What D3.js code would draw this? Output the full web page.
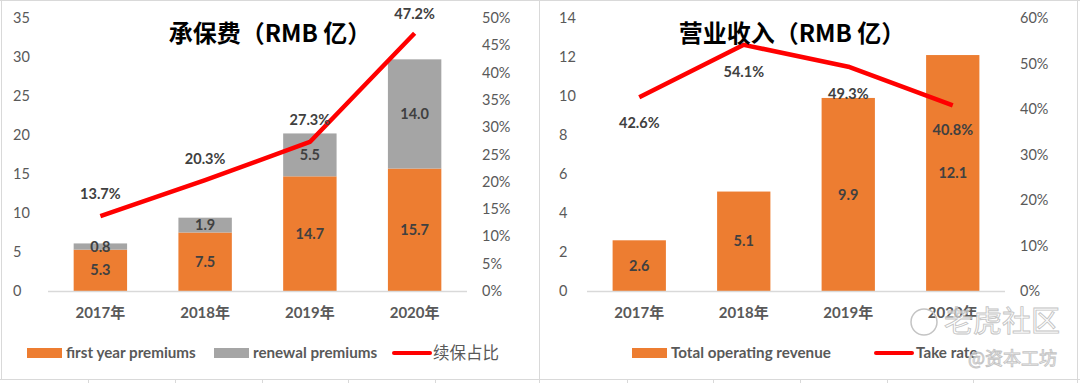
<!DOCTYPE html>
<html>
<head>
<meta charset="utf-8">
<script src="https://cdn.jsdelivr.net/npm/d3@7"></script>
<style>
  body { margin: 0; background: #fff; }
  svg { display: block; }
  text { font-family: Lato, "Noto Sans CJK SC", sans-serif; }
</style>
</head>
<body>
<div id="chart"></div>
<script>
// data -------------------------------------------------------------------
const years = ["2017年", "2018年", "2019年", "2020年"];
const firstYear = [5.3, 7.5, 14.7, 15.7];
const renewal = [0.8, 1.9, 5.5, 14.0];
const renewalShare = [0.137, 0.203, 0.273, 0.472];
const revenue = [2.6, 5.1, 9.9, 12.1];
const takeRate = [0.426, 0.541, 0.493, 0.408];
const leftTicks = [0, 5, 10, 15, 20, 25, 30, 35];
const leftPctTicks = [0, 0.05, 0.1, 0.15, 0.2, 0.25, 0.3, 0.35, 0.4, 0.45, 0.5];
const rightTicks = [0, 2, 4, 6, 8, 10, 12, 14];
const rightPctTicks = [0, 0.1, 0.2, 0.3, 0.4, 0.5, 0.6];

const W = 1080, H = 383;
const ORANGE = "#ED7D31", GRAY = "#A5A5A5", RED = "#FF0000";
const TICK = "#595959", LABEL = "#404040";

const svg = d3.select("#chart").append("svg")
    .attr("width", W).attr("height", H);

// spreadsheet cell lines + frames
const grid = svg.append("g").attr("stroke", "#d9d9d9").attr("fill", "none");
grid.append("line").attr("x1", 0).attr("x2", W).attr("y1", 379.5).attr("y2", 379.5);
[88, 175, 262, 348, 435, 627, 713, 800, 887, 973].forEach(x => {
    grid.append("line").attr("x1", x + 0.5).attr("x2", x + 0.5).attr("y1", 379).attr("y2", H);
});
grid.append("line").attr("x1", 1.5).attr("x2", 1.5).attr("y1", 0).attr("y2", 379);
grid.append("line").attr("x1", 539.5).attr("x2", 539.5).attr("y1", 0).attr("y2", H);
grid.append("line").attr("x1", 1077.5).attr("x2", 1077.5).attr("y1", 0).attr("y2", H);
grid.append("line").attr("x1", 0).attr("x2", W).attr("y1", 0.5).attr("y2", 0.5);

function drawPanel(cfg) {
    const g = svg.append("g");
    const x = d3.scaleBand().domain(years).range(cfg.xRange)
        .paddingInner(0.49).paddingOuter(0.245);
    const y = d3.scaleLinear().domain(cfg.yDomain).range([291, 18]);
    const y2 = d3.scaleLinear().domain(cfg.pctDomain).range([291, 18]);

    // left axis labels
    g.selectAll(".yl").data(cfg.ticks).join("text")
        .attr("x", cfg.leftLabelX).attr("y", d => y(d)).attr("dy", "0.35em")
        .attr("fill", TICK).attr("font-size", 14.5).text(d => d);
    // right axis labels
    g.selectAll(".yr").data(cfg.pctTicks).join("text")
        .attr("x", cfg.rightLabelX).attr("y", d => y2(d)).attr("dy", "0.35em")
        .attr("fill", TICK).attr("font-size", 14.5).text(d3.format(".0%"));

    // bars
    cfg.series.forEach((s, si) => {
        g.selectAll(null).data(s.values).join("rect")
            .attr("x", (d, i) => x(years[i]))
            .attr("width", x.bandwidth())
            .attr("y", (d, i) => y(d + s.base(i)))
            .attr("height", (d, i) => y(s.base(i)) - y(d + s.base(i)))
            .attr("fill", s.color);
        g.selectAll(null).data(s.values).join("text")
            .attr("x", (d, i) => x(years[i]) + x.bandwidth() / 2)
            .attr("y", (d, i) => y(s.base(i) + d / 2))
            .attr("dy", "0.35em").attr("text-anchor", "middle")
            .attr("font-weight", "bold").attr("font-size", 14.5).attr("fill", LABEL)
            .text(d => d.toFixed(1));
    });

    // baseline
    g.append("line").attr("x1", cfg.xRange[0]).attr("x2", cfg.xRange[1])
        .attr("y1", y(0) + 0.5).attr("y2", y(0) + 0.5)
        .attr("stroke", "#d9d9d9").attr("stroke-width", 1.5);

    // category labels
    g.selectAll(".cat").data(years).join("text")
        .attr("x", d => x(d) + x.bandwidth() / 2).attr("y", 313).attr("dy", "0.35em")
        .attr("text-anchor", "middle").attr("font-weight", "bold")
        .attr("font-size", 15).attr("fill", TICK).text(d => d);

    // line
    const line = d3.line()
        .x((d, i) => x(years[i]) + x.bandwidth() / 2)
        .y(d => y2(d));
    g.append("path").datum(cfg.pct).attr("d", line)
        .attr("fill", "none").attr("stroke", RED).attr("stroke-width", 4.5)
        .attr("stroke-linejoin", "round");
    g.selectAll(".pl").data(cfg.pct).join("text")
        .attr("x", (d, i) => x(years[i]) + x.bandwidth() / 2)
        .attr("y", (d, i) => y2(d) + cfg.pctOffset[i]).attr("dy", "0.35em")
        .attr("text-anchor", "middle").attr("font-weight", "bold")
        .attr("font-size", 14.5).attr("fill", LABEL)
        .text(d => (d * 100).toFixed(1) + "%");

    // title
    g.append("text").attr("x", cfg.titleX).attr("y", 34).attr("dy", "0.35em")
        .attr("text-anchor", "middle").attr("font-weight", "bold").attr("font-size", 24)
        .attr("fill", "#000")
        .style("font-family", "'Noto Sans CJK SC', sans-serif")
        .text(cfg.title);

    // legend
    const lg = g.append("g");
    cfg.legend.forEach(it => {
        if (it.type === "rect") {
            lg.append("rect").attr("x", it.x).attr("y", 348).attr("width", 35).attr("height", 10)
                .attr("fill", it.color);
        } else {
            lg.append("line").attr("x1", it.x).attr("x2", it.x + 36).attr("y1", 353).attr("y2", 353)
                .attr("stroke", it.color).attr("stroke-width", 4).attr("stroke-linecap", "round");
        }
        lg.append("text").attr("x", it.tx).attr("y", 353).attr("dy", "0.35em")
            .attr("font-weight", it.bold ? "bold" : "normal").attr("font-size", it.size || 15.2)
            .attr("fill", TICK).text(it.label);
    });
}

drawPanel({
    xRange: [48, 467], yDomain: [0, 35], pctDomain: [0, 0.5],
    ticks: leftTicks, pctTicks: leftPctTicks,
    leftLabelX: 13, rightLabelX: 482,
    series: [
        { values: firstYear, color: ORANGE, base: () => 0 },
        { values: renewal, color: GRAY, base: i => firstYear[i] }
    ],
    pct: renewalShare, pctOffset: [-22, -21, -22, -19],
    title: "承保费（RMB 亿）", titleX: 270,
    legend: [
        { type: "rect", x: 27, tx: 66, color: ORANGE, label: "first year premiums", bold: true },
        { type: "rect", x: 214, tx: 253, color: GRAY, label: "renewal premiums", bold: true },
        { type: "line", x: 394, tx: 433, color: RED, label: "续保占比", size: 16.5 }
    ]
});

drawPanel({
    xRange: [587, 1005], yDomain: [0, 14], pctDomain: [0, 0.6],
    ticks: rightTicks, pctTicks: rightPctTicks,
    leftLabelX: 559, rightLabelX: 1020,
    series: [
        { values: revenue, color: ORANGE, base: () => 0 }
    ],
    pct: takeRate, pctOffset: [26, 27, 27, 25],
    title: "营业收入（RMB 亿）", titleX: 792,
    legend: [
        { type: "rect", x: 632, tx: 671, color: ORANGE, label: "Total operating revenue", bold: true },
        { type: "line", x: 876, tx: 916, color: RED, label: "Take rate", bold: true }
    ]
});

// watermark (overlaps the chart in the source image too)
const wm = svg.append("g").attr("fill", "#fff").attr("fill-opacity", 0.5)
    .attr("stroke", "#c4c4c4").attr("stroke-width", 0.9);
wm.append("circle").attr("cx", 924).attr("cy", 322).attr("r", 13)
    .attr("fill", "none").attr("stroke-width", 1.5);
wm.append("text").attr("x", 944).attr("y", 322).attr("dy", "0.35em")
    .attr("font-size", 29).style("font-family", "'Noto Sans CJK SC', sans-serif").text("老虎社区");
wm.append("text").attr("x", 968).attr("y", 359).attr("dy", "0.35em")
    .attr("font-size", 18).style("font-family", "'Noto Sans CJK SC', sans-serif").text("@资本工坊");
</script>
</body>
</html>
